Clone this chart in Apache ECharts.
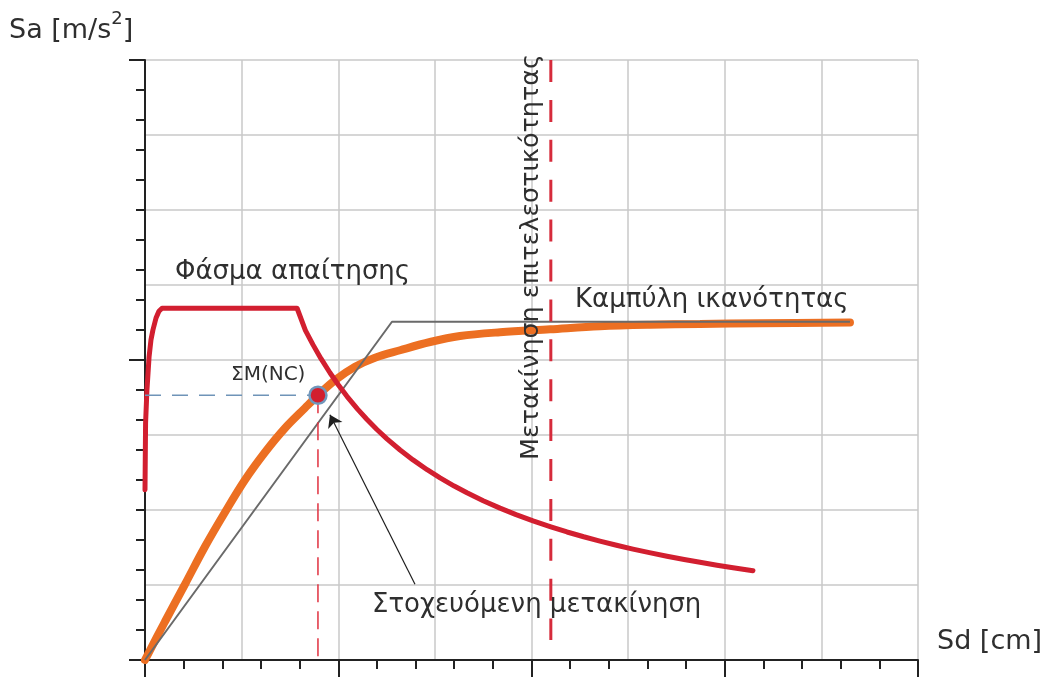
<!DOCTYPE html>
<html>
<head>
<meta charset="utf-8">
<script src="https://cdn.jsdelivr.net/npm/echarts@6/dist/echarts.min.js"></script>
<style>
  html, body { margin: 0; padding: 0; background: #fff; }
  #chart { width: 1047px; height: 680px; }
</style>
</head>
<body>
<div id="chart"></div>
<script>
// ---- Data ----
// Demand spectrum (Φάσμα απαίτησης)
const demandSd = [0, 0.03, 0.10, 0.21, 0.31, 0.41, 0.57, 0.72, 0.88, 7.87, 8.30, 8.69, 9.10, 9.57, 10.00, 10.45, 11.00, 11.49, 12.00, 12.52, 13.20, 13.87, 14.60, 15.27, 16.00, 16.66, 17.50, 18.37, 19.20, 20.08, 21.00, 21.84, 22.70, 23.54, 24.40, 25.25, 26.10, 27.01, 27.90, 28.72, 29.60, 30.43, 31.46];
const demandSa = [2.27, 3.16, 3.60, 4.04, 4.27, 4.40, 4.56, 4.65, 4.69, 4.69, 4.395, 4.205, 4.021, 3.830, 3.670, 3.516, 3.345, 3.206, 3.073, 2.949, 2.800, 2.668, 2.537, 2.428, 2.319, 2.229, 2.124, 2.025, 1.938, 1.855, 1.775, 1.707, 1.643, 1.586, 1.530, 1.479, 1.432, 1.384, 1.340, 1.303, 1.264, 1.230, 1.190];
// Capacity curve (Καμπύλη ικανότητας)
const capacitySd = [0, 1.03, 2.07, 3.10, 4.14, 5.17, 6.21, 7.24, 8.28, 8.95, 9.83, 10.87, 11.90, 13.20, 14.75, 16.30, 18.37, 20.96, 23.54, 26.13, 28.72, 31.82, 36.48];
const capacitySa = [0, 0.51, 1.01, 1.51, 1.97, 2.40, 2.77, 3.09, 3.36, 3.53, 3.73, 3.91, 4.03, 4.13, 4.24, 4.32, 4.37, 4.41, 4.45, 4.47, 4.48, 4.49, 4.50];
// Idealised bilinear curve
const bilinearSd = [0, 12.78, 36.48];
const bilinearSa = [0, 4.51, 4.51];
// Performance point ΣΜ(NC)
const targetSd = 8.95;
const targetSa = 3.53;
// Performance displacement (vertical dashed line)
const perfSd = 21.0;
const perfSaRange = [8, 0.267];
// Arrow from label to target
const arrowFrom = [13.97, 1.01];
const arrowTo = [9.57, 3.27];
// Axis extents / ticks
const xMax = 40, xGrid = 5, xMinorTick = 2, xMajorTick = 10;
const yMax = 8, yGrid = 1, yMinorTick = 0.4, yMajorTick = 4;
// Texts
const yAxisTitle = ['Sa [m/s', '2', ']'];
const xAxisTitle = 'Sd [cm]';
const demandLabel = 'Φάσμα απαίτησης';
const capacityLabel = 'Καμπύλη ικανότητας';
const targetLabel = 'ΣΜ(NC)';
const targetDispLabel = 'Στοχευόμενη μετακίνηση';
const perfDispLabel = 'Μετακίνηση επιτελεστικότητας';

const zip = (a, b) => a.map((v, i) => [v, b[i]]);

const FONT = 'DejaVu Sans';
const TXT = '#2f2f2f';
const AX = '#222';

function xAx(interval, opts) {
  return Object.assign({
    type: 'value', min: 0, max: xMax, interval: interval, position: 'bottom',
    axisLine: { show: false, onZero: false },
    axisTick: { show: false },
    axisLabel: { show: false },
    splitLine: { show: false }
  }, opts);
}
function yAx(interval, opts) {
  return Object.assign({
    type: 'value', min: 0, max: yMax, interval: interval, position: 'left',
    axisLine: { show: false, onZero: false },
    axisTick: { show: false },
    axisLabel: { show: false },
    splitLine: { show: false }
  }, opts);
}

const chart = echarts.init(document.getElementById('chart'), null, { renderer: 'canvas' });

const option = {
  animation: false,
  backgroundColor: '#fff',
  grid: { left: 145, top: 60, width: 773, height: 600, containLabel: false },
  xAxis: [
    xAx(xGrid, {
      axisLine: { show: true, onZero: false, lineStyle: { color: AX, width: 2 } },
      splitLine: { show: true, lineStyle: { color: '#c8c8c8', width: 1.5 } }
    }),
    xAx(xMinorTick, { axisTick: { show: true, inside: false, length: 9, lineStyle: { color: AX, width: 2 } } }),
    xAx(xMajorTick, { axisTick: { show: true, inside: false, length: 17, lineStyle: { color: AX, width: 2 } } })
  ],
  yAxis: [
    yAx(yGrid, {
      axisLine: { show: true, onZero: false, lineStyle: { color: AX, width: 2 } },
      splitLine: { show: true, lineStyle: { color: '#c8c8c8', width: 1.5 } }
    }),
    yAx(yMinorTick, { axisTick: { show: true, inside: false, length: 9, lineStyle: { color: AX, width: 2 } } }),
    yAx(yMajorTick, { axisTick: { show: true, inside: false, length: 16, lineStyle: { color: AX, width: 2 } } })
  ],
  series: [
    {
      name: 'capacity', type: 'line', xAxisIndex: 0, yAxisIndex: 0, z: 3,
      data: zip(capacitySd, capacitySa), showSymbol: false, smooth: 0.35,
      lineStyle: { color: '#ec6f22', width: 8, cap: 'round' }
    },
    {
      name: 'bilinear', type: 'line', xAxisIndex: 0, yAxisIndex: 0, z: 4,
      data: zip(bilinearSd, bilinearSa), showSymbol: false,
      lineStyle: { color: '#6a6a6a', width: 2 }
    },
    {
      name: 'demand', type: 'line', xAxisIndex: 0, yAxisIndex: 0, z: 5,
      data: zip(demandSd, demandSa), showSymbol: false,
      lineStyle: { color: '#d21f30', width: 5, cap: 'round', join: 'round' }
    },
    {
      name: 'perf', type: 'line', xAxisIndex: 0, yAxisIndex: 0, z: 6,
      data: [[perfSd, perfSaRange[0]], [perfSd, perfSaRange[1]]], showSymbol: false,
      lineStyle: { color: '#d62b3b', width: 3, type: [22, 17.9] }
    },
    {
      name: 'hguide', type: 'line', xAxisIndex: 0, yAxisIndex: 0, z: 6,
      data: [[0, targetSa], [targetSd, targetSa]], showSymbol: false,
      lineStyle: { color: '#6f94b8', width: 1.5, type: [16, 11] }
    },
    {
      name: 'vguide', type: 'line', xAxisIndex: 0, yAxisIndex: 0, z: 6,
      data: [[targetSd, targetSa], [targetSd, 0]], showSymbol: false,
      lineStyle: { color: '#e0303f', width: 1.5, type: [18, 9] }
    },
    {
      name: 'arrow', type: 'lines', coordinateSystem: 'cartesian2d', xAxisIndex: 0, yAxisIndex: 0, z: 7,
      symbol: ['none', 'arrow'], symbolSize: [8, 12],
      lineStyle: { color: '#1e1e1e', width: 1.2, opacity: 1, curveness: 0 },
      data: [{ coords: [arrowFrom, arrowTo] }]
    },
    {
      name: 'target', type: 'scatter', xAxisIndex: 0, yAxisIndex: 0, z: 8,
      data: [[targetSd, targetSa]], symbolSize: 17,
      itemStyle: { color: '#d21f2e', borderColor: '#7096bb', borderWidth: 2.5, opacity: 1 }
    }
  ],
  graphic: [
    {
      type: 'text', left: 9, top: 10, z: 10,
      style: {
        text: '{a|' + yAxisTitle[0] + '}{s|' + yAxisTitle[1] + '}{a|' + yAxisTitle[2] + '}',
        rich: {
          a: { fontFamily: FONT, fontSize: 27, fill: TXT, verticalAlign: 'bottom', lineHeight: 34 },
          s: { fontFamily: FONT, fontSize: 18, fill: TXT, verticalAlign: 'top', lineHeight: 34 }
        }
      }
    },
    { type: 'text', x: 937, y: 642, z: 10, style: { text: xAxisTitle, font: '27px "' + FONT + '"', fill: TXT, textVerticalAlign: 'middle' } },
    { type: 'text', x: 175, y: 272, z: 10, style: { text: demandLabel, font: '26px "' + FONT + '"', fill: TXT, textVerticalAlign: 'middle' } },
    { type: 'text', x: 575, y: 300, z: 10, style: { text: capacityLabel, font: '26px "' + FONT + '"', fill: TXT, textVerticalAlign: 'middle' } },
    { type: 'text', x: 372, y: 605, z: 10, style: { text: targetDispLabel, font: '26px "' + FONT + '"', fill: TXT, textVerticalAlign: 'middle' } },
    { type: 'text', x: 231, y: 375, z: 10, style: { text: targetLabel, font: '20px "' + FONT + '"', fill: TXT, textVerticalAlign: 'middle' } },
    { type: 'text', x: 531, y: 460, rotation: Math.PI / 2, z: 10, style: { text: perfDispLabel, font: '25.4px "' + FONT + '"', fill: TXT, textAlign: 'left', textVerticalAlign: 'middle' } }
  ]
};
chart.setOption(option);
</script>
</body>
</html>
